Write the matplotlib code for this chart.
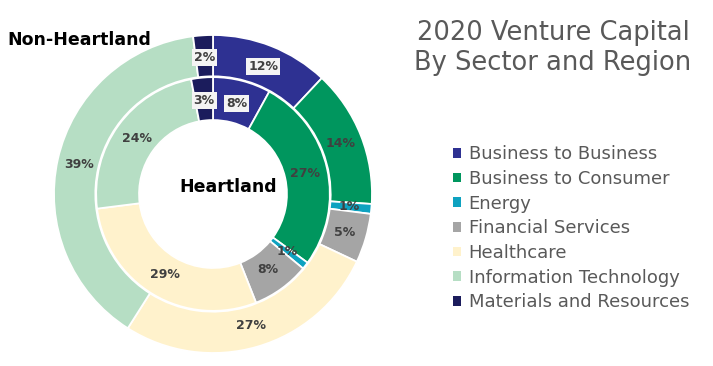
import matplotlib
matplotlib.use("Agg")
import matplotlib.pyplot as plt
import numpy as np

categories = ["Business to Business", "Business to Consumer", "Energy",
              "Financial Services", "Healthcare", "Information Technology",
              "Materials and Resources"]
non_heartland = [12, 14, 1, 5, 27, 39, 2]
heartland = [8, 27, 1, 8, 29, 24, 3]
colors = ["#2e3192", "#00965e", "#0ea2c0", "#a5a5a5", "#fff2cc", "#b6dec4", "#1b1c5c"]
boxed_outer = [0, 6]
boxed_inner = [0, 6]

plt.rcParams['font.family'] = ['DejaVu Sans']
W, H = 713, 366
fig = plt.figure(figsize=(W / 100, H / 100), dpi=100)
cx, cy, R = 213, 194, 159
ax = fig.add_axes([(cx - R) / W, (H - cy - R) / H, 2 * R / W, 2 * R / H])

wp = dict(edgecolor="white", linewidth=1.3)
outer, _ = ax.pie(non_heartland, radius=1.0, colors=colors, startangle=90,
                  counterclock=False, wedgeprops=dict(width=0.26, **wp))
inner, _ = ax.pie(heartland, radius=0.735, colors=colors, startangle=90,
                  counterclock=False, wedgeprops=dict(width=0.27, **wp))
ax.set_xlim(-1, 1)
ax.set_ylim(-1, 1)
ax.set_aspect("equal")
ax.axis("off")


def label(wedges, vals, r, boxed):
    for i, (w, v) in enumerate(zip(wedges, vals)):
        ang = np.deg2rad((w.theta1 + w.theta2) / 2)
        x, y = r * np.cos(ang), r * np.sin(ang)
        kw = {}
        if i in boxed:
            kw["bbox"] = dict(boxstyle="square,pad=0.15", fc="#f4f4f4", ec="none")
        ax.text(x, y, f"{v}%", ha="center", va="center", fontsize=9,
                fontweight="bold", color="#404040", **kw)

label(outer, non_heartland, 0.86, boxed_outer)
label(inner, heartland, 0.59, boxed_inner)

fig.text(7 / W, 1 - 40 / H, "Non-Heartland", fontsize=12.5, fontweight="bold",
         color="black", ha="left", va="center")
fig.text(228 / W, 1 - 187 / H, "Heartland", fontsize=12.5, fontweight="bold",
         color="black", ha="center", va="center")

fig.text(553 / W, 1 - 48 / H, "2020 Venture Capital\nBy Sector and Region",
         fontsize=18.5, color="#595959", ha="center", va="center", linespacing=1.2)

leg = fig.legend(outer, categories, loc="upper left",
                 bbox_to_anchor=(437 / W, 1 - 129 / H), frameon=False,
                 fontsize=13, handlelength=0.45, handleheight=0.45,
                 handletextpad=0.4, labelspacing=0.37, labelcolor="#595959")
for h in leg.legend_handles:
    h.set_edgecolor("none")

fig.savefig("out.png", dpi=100)
